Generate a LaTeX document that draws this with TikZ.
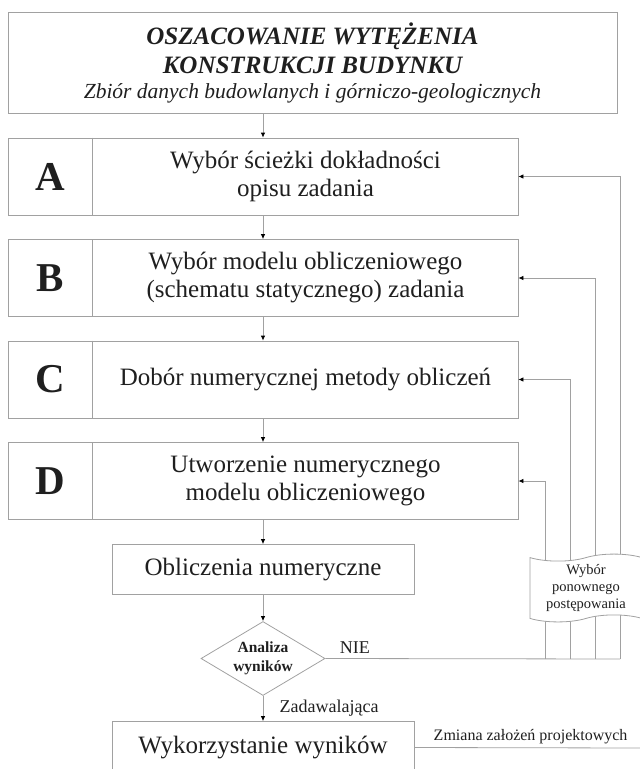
\documentclass[tikz,border=0pt]{standalone}
\usepackage{fontspec}
\setmainfont{Liberation Serif}
\usetikzlibrary{positioning,shapes.geometric,shapes.symbols,arrows.meta}

\definecolor{linegray}{gray}{0.63}
\definecolor{ink}{gray}{0.12}

\tikzset{
  box/.style={draw=linegray, line width=0.8pt, text=ink},
  rowbox/.style={box, minimum width=510pt, minimum height=77pt},
  letter/.style={text=ink, font=\fontsize{41}{41}\selectfont\bfseries},
  task/.style={text=ink, align=center, font=\fontsize{25}{28}\selectfont},
  wire/.style={draw=linegray, line width=0.8pt},
  arrow/.style={wire, -{Latex[length=5pt,width=4.5pt,color=black]}},
  lab/.style={text=ink, font=\fontsize{18}{20}\selectfont}
}

\begin{document}
\begin{tikzpicture}[x=1pt,y=-1pt,node distance=101.5pt,on grid,auto]
\useasboundingbox (0,0) rectangle (640,769);
\clip (0,0) rectangle (640,769);

\node[box, minimum width=609pt, minimum height=101pt, align=center,
  font=\fontsize{25}{29}\selectfont\bfseries\itshape] (top) at (312.5,62.5)
  {OSZACOWANIE WYTĘŻENIA\\KONSTRUKCJI BUDYNKU\\[-4pt]
   {\fontsize{21.5}{24}\selectfont\mdseries Zbiór danych budowlanych i górniczo-geologicznych}};

% kroki A-D
\node[rowbox] (A) at (263,176.5) {};
\node[letter] (A-l) at ([xshift=42.5pt]A.west) {A};
\draw[wire] ([xshift=85pt]A.north west) -- ([xshift=85pt]A.south west);
\node[task] (A-t) at ([xshift=42.5pt]A.center) {Wybór ścieżki dokładności\\opisu zadania};

\node[rowbox] (B) [below=of A] {};
\node[letter] (B-l) at ([xshift=42.5pt]B.west) {B};
\draw[wire] ([xshift=85pt]B.north west) -- ([xshift=85pt]B.south west);
\node[task] (B-t) at ([xshift=42.5pt]B.center) {Wybór modelu obliczeniowego\\(schematu statycznego) zadania};

\node[rowbox] (C) [below=of B] {};
\node[letter] (C-l) at ([xshift=42.5pt]C.west) {C};
\draw[wire] ([xshift=85pt]C.north west) -- ([xshift=85pt]C.south west);
\node[task] (C-t) at ([xshift=42.5pt]C.center) {Dobór numerycznej metody obliczeń};

\node[rowbox] (D) [below=of C] {};
\node[letter] (D-l) at ([xshift=42.5pt]D.west) {D};
\draw[wire] ([xshift=85pt]D.north west) -- ([xshift=85pt]D.south west);
\node[task] (D-t) at ([xshift=42.5pt]D.center) {Utworzenie numerycznego\\modelu obliczeniowego};

% obliczenia i analiza
\node[box, minimum width=302pt, minimum height=50pt, font=\fontsize{25}{28}\selectfont]
  (obl) [below=88.5pt of D] {Obliczenia numeryczne};
\node[box, diamond, aspect=1.68, minimum width=124pt, minimum height=74pt, inner sep=0pt,
  align=center, font=\fontsize{15.5}{19}\selectfont\bfseries] (ana) [below=89pt of obl] {Analiza\\wyników};
\node[box, minimum width=302pt, minimum height=52pt, font=\fontsize{25}{28}\selectfont]
  (wyk) [below=89pt of ana] {Wykorzystanie wyników};

\path[every edge/.style=arrow]
  (top.south -| A.north) edge (A.north)
  (A) edge (B)
  (B) edge (C)
  (C) edge (D)
  (D) edge (obl)
  (obl) edge (ana)
  (ana) edge node[lab, right=13pt] {Zadawalająca} (wyk);

% powroty
\coordinate (nA) at (620,659);
\coordinate (nB) at (595,659);
\coordinate (nC) at (570,659);
\coordinate (nD) at (545,659);
\draw[wire] (ana.east) -- node[lab, pos=0.1, above=1pt] {NIE} (nA);
\draw[arrow] (nA) |- (A.east);
\draw[arrow] (nB) |- (B.east);
\draw[arrow] (nC) |- (C.east);
\draw[arrow] (nD) |- (D.east);

\node[box, tape, fill=white, minimum width=112pt, minimum height=66pt, tape bend height=7pt,
  align=center, font=\fontsize{14.5}{17}\selectfont] (wyb) at (586,588) {Wybór\\ponownego\\postępowania};

\coordinate (zm) at (640,748);
\draw[wire] (wyk.east) -- node[lab, pos=0.515, above, font=\fontsize{16}{18}\selectfont]
  {Zmiana założeń projektowych} (zm);
\end{tikzpicture}
\end{document}
